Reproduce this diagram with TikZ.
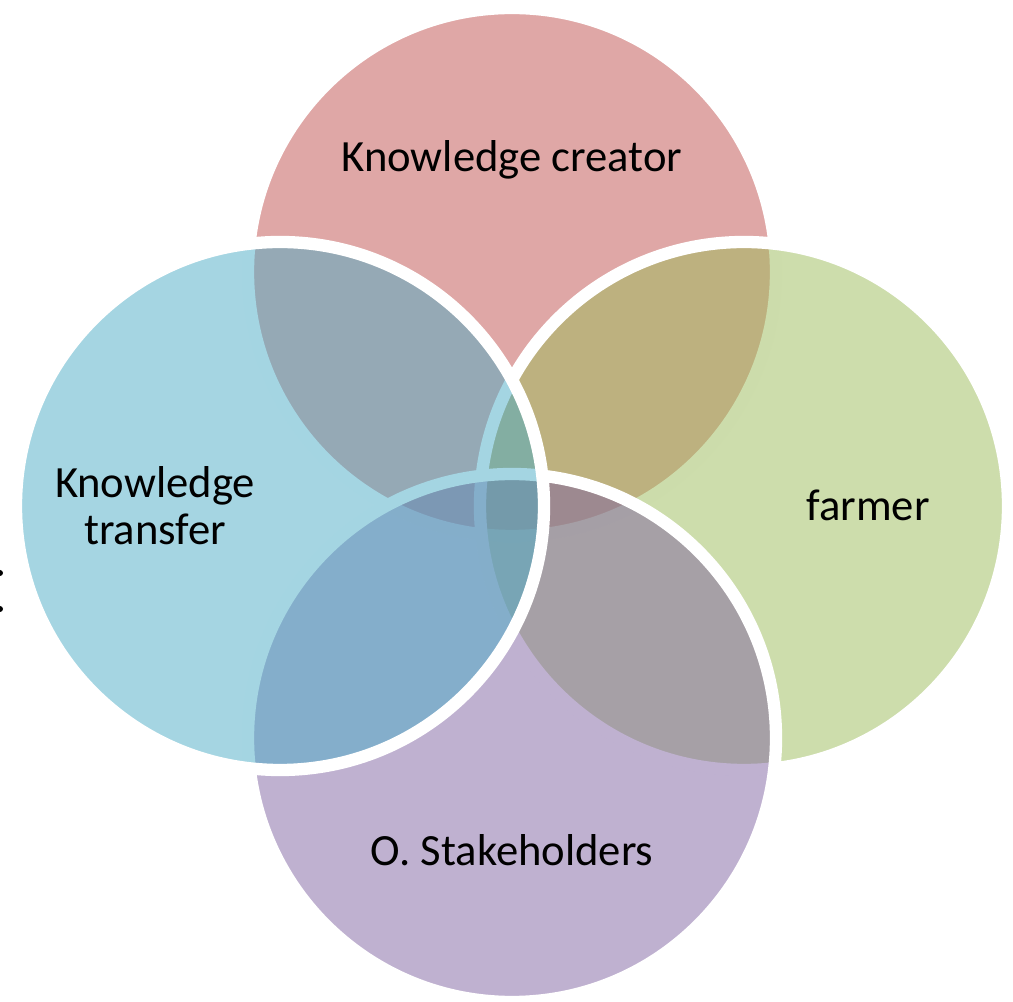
\documentclass[tikz,border=0pt]{standalone}
\usepackage{fontspec}
\setmainfont{Carlito}
\definecolor{creatorred}{HTML}{C0504D}
\definecolor{farmergreen}{HTML}{9BBB59}
\definecolor{stakepurple}{HTML}{8064A2}
\definecolor{transferblue}{HTML}{4BACC6}
\tikzset{
  vennlabel/.style={text=black,align=center,inner sep=0pt,
    font=\fontsize{12.7}{13.4}\selectfont}
}
\def\vennpart#1#2#3#4#5#6#7{
  % 1: x of centre
  % 2: y of centre
  % 3: colour
  % 4: x of label
  % 5: y of label
  % 6: name
  % 7: label
  \filldraw[fill=#3,fill opacity=.5,draw=white,line width=3.5] (#1,#2) circle (264);
  \node[vennlabel] (#6) at (#4,#5) {#7};
}

\begin{document}
\begin{tikzpicture}[x=0.1mm,y=-0.1mm]
    \useasboundingbox (0,0) rectangle (1013,1002);
    % \vennpart{x}{y}{colour}{lx}{ly}{name}{label}
    \vennpart{512}{272}{creatorred}{512}{160}{creator}{Knowledge creator}
    \vennpart{744}{506}{farmergreen}{868}{505}{farmer}{farmer}
    \vennpart{512}{738}{stakepurple}{512}{850}{stake}{O. Stakeholders}
    \vennpart{280}{506}{transferblue}{155}{506}{transfer}{Knowledge\\transfer}
    % cut-off marks at the left edge
    \fill[black] (0,573) circle (3) (0,609) circle (3);
  \end{tikzpicture}
\end{document}
